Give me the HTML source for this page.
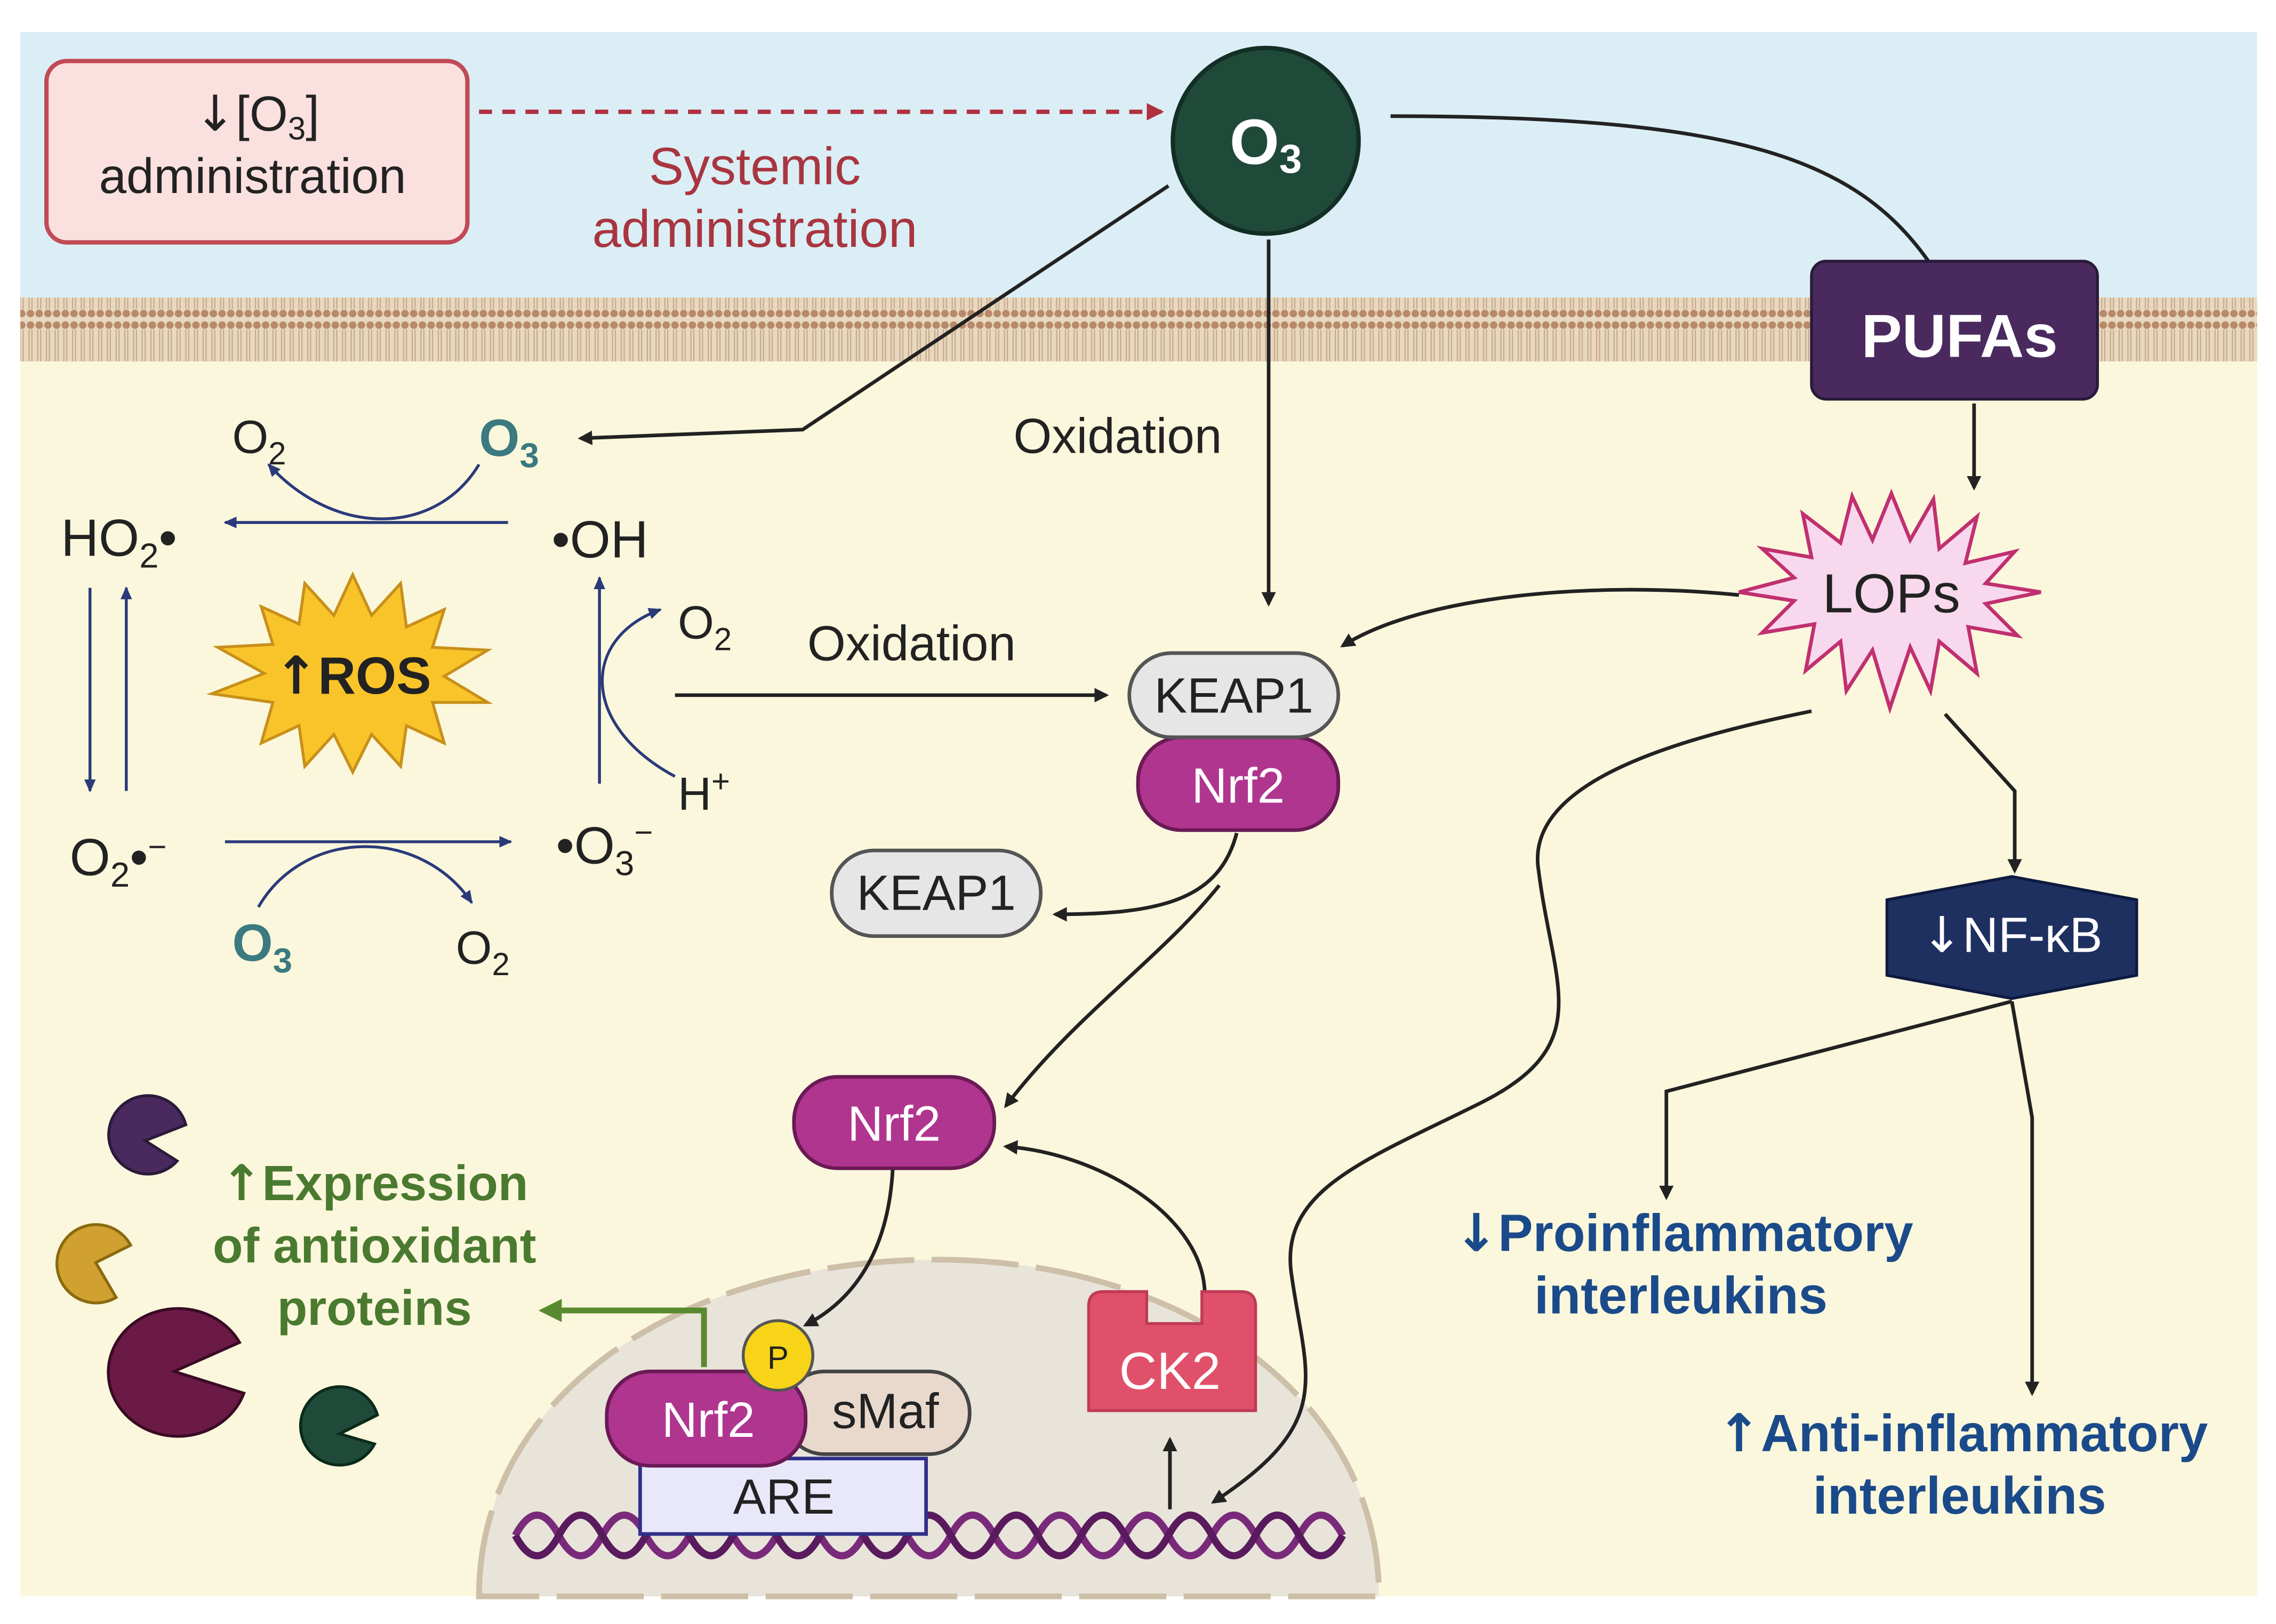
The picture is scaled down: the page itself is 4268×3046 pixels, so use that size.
<!DOCTYPE html>
<html><head><meta charset="utf-8"><style>
html,body{margin:0;padding:0;background:#fff}
svg{display:block}
text{font-family:"Liberation Sans",sans-serif}
.ar{font-family:"DejaVu Sans",sans-serif}
</style></head><body>
<svg width="4268" height="3046" viewBox="0 0 1568 1119" xmlns="http://www.w3.org/2000/svg">
<defs>
<marker id="ah" markerWidth="10" markerHeight="10" refX="8" refY="5" orient="auto" markerUnits="userSpaceOnUse"><path d="M0,0 L10,5 L0,10 z" fill="#222"/></marker>
<marker id="ahb" markerWidth="10" markerHeight="10" refX="8" refY="5" orient="auto" markerUnits="userSpaceOnUse"><path d="M0,1 L9,5 L0,9 z" fill="#2a3a7a"/></marker>
<marker id="ahr" markerWidth="12" markerHeight="12" refX="10" refY="6" orient="auto" markerUnits="userSpaceOnUse"><path d="M0,0 L12,6 L0,12 z" fill="#b03040"/></marker>
<marker id="ahg" markerWidth="16" markerHeight="16" refX="12" refY="8" orient="auto" markerUnits="userSpaceOnUse"><path d="M0,0 L16,8 L0,16 z" fill="#5a8a30"/></marker>
<pattern id="mem" width="6" height="44" patternUnits="userSpaceOnUse">
<rect width="6" height="44" fill="#e8d8c0"/>
<circle cx="3" cy="4" r="2.6" fill="#b88a6a"/><circle cx="3" cy="40" r="2.6" fill="#b88a6a"/>
<line x1="2" y1="7" x2="2" y2="37" stroke="#c8a888" stroke-width="0.8"/><line x1="4" y1="7" x2="4" y2="37" stroke="#c8a888" stroke-width="0.8"/>
</pattern>
</defs>
<rect x="14" y="22" width="1541" height="186" fill="#dbeef5"/>
<rect x="14" y="205" width="1541" height="895" fill="#fbf7dc"/>
<rect x="14" y="205" width="1541" height="44" fill="url(#mem)"/>

<rect x="32" y="42" width="290" height="125" rx="14" fill="#fbe0e0" stroke="#c04a55" stroke-width="3"/>
<text x="177" y="90" font-size="34" text-anchor="middle" fill="#222"><tspan class="ar">↓</tspan>[O<tspan font-size="22" dy="6">3</tspan><tspan dy="-6">]</tspan></text>
<text x="174" y="133" font-size="34" text-anchor="middle" fill="#222">administration</text>
<line x1="330" y1="77" x2="800" y2="77" stroke="#b03040" stroke-width="3" stroke-dasharray="9,7" marker-end="url(#ahr)"/>
<text x="520" y="127" font-size="36" text-anchor="middle" fill="#a83540">Systemic</text>
<text x="520" y="170" font-size="36" text-anchor="middle" fill="#a83540">administration</text>

<circle cx="872" cy="97" r="64" fill="#1f4a3a" stroke="#132e24" stroke-width="3"/>
<text x="872" y="113" font-size="44" font-weight="bold" text-anchor="middle" fill="#fff">O<tspan font-size="28" dy="6">3</tspan></text>

<path d="M958,80 C1200,80 1280,110 1330,182" fill="none" stroke="#222" stroke-width="2.5"/>
<rect x="1248" y="180" width="197" height="95" rx="10" fill="#4a2a5e" stroke="#2a1a3a" stroke-width="2"/>
<text x="1350" y="246" font-size="42" font-weight="bold" text-anchor="middle" fill="#fff">PUFAs</text>
<path d="M1360,278 L1360,336" stroke="#222" stroke-width="2.5" marker-end="url(#ah)"/>

<polygon fill="#f8d8ec" stroke="#c03070" stroke-width="2.5" points="1303,340 1316,372 1332,344 1336,378 1362,356 1354,388 1388,380 1368,402 1406,408 1368,416 1390,438 1356,432 1362,464 1336,442 1330,476 1316,446 1302,488 1290,448 1272,476 1268,442 1244,462 1250,430 1214,436 1236,414 1198,408 1236,398 1214,378 1248,384 1242,354 1268,374 1276,342 1290,372"/>
<text x="1303" y="422" font-size="38" text-anchor="middle" fill="#222">LOPs</text>

<path d="M805,128 L553,296 L400,302" fill="none" stroke="#222" stroke-width="2.5" marker-end="url(#ah)"/>
<path d="M874,165 L874,416" stroke="#222" stroke-width="2.5" marker-end="url(#ah)"/>
<text x="770" y="312" font-size="34" text-anchor="middle" fill="#222">Oxidation</text>

<text x="160" y="312" font-size="32" fill="#222">O<tspan font-size="22" dy="8">2</tspan></text>
<text x="330" y="314" font-size="36" font-weight="bold" fill="#3a7a80">O<tspan font-size="24" dy="8">3</tspan></text>
<text x="42" y="383" font-size="36" fill="#222">HO<tspan font-size="24" dy="8">2</tspan><tspan dy="-8">•</tspan></text>
<text x="380" y="384" font-size="36" fill="#222">•OH</text>
<path d="M350,360 L155,360" stroke="#2a3a7a" stroke-width="2" marker-end="url(#ahb)"/>
<path d="M330,320 C300,370 230,370 185,320" fill="none" stroke="#2a3a7a" stroke-width="2" marker-end="url(#ahb)"/>
<path d="M62,405 L62,545" stroke="#2a3a7a" stroke-width="2" marker-end="url(#ahb)"/>
<path d="M87,545 L87,405" stroke="#2a3a7a" stroke-width="2" marker-end="url(#ahb)"/>
<path d="M413,540 L413,398" stroke="#2a3a7a" stroke-width="2" marker-end="url(#ahb)"/>
<path d="M465,535 C400,500 400,440 455,420" fill="none" stroke="#2a3a7a" stroke-width="2" marker-end="url(#ahb)"/>
<text x="467" y="440" font-size="32" fill="#222">O<tspan font-size="22" dy="8">2</tspan></text>
<text x="467" y="558" font-size="32" fill="#222">H<tspan font-size="22" dy="-12">+</tspan></text>
<polygon fill="#f9c42a" stroke="#c8901a" stroke-width="2" points="243,396 256,424 276,402 280,432 306,420 298,446 336,448 306,466 336,484 298,484 306,512 280,500 276,528 256,506 243,532 230,506 210,528 206,500 180,512 188,484 146,478 182,464 150,446 188,444 180,418 206,430 210,402 230,424"/>
<text x="243" y="478" font-size="36" font-weight="bold" text-anchor="middle" fill="#222"><tspan class="ar">↑</tspan>ROS</text>
<text x="48" y="603" font-size="36" fill="#222">O<tspan font-size="24" dy="8">2</tspan><tspan dy="-8">•</tspan><tspan font-size="22" dy="-12">−</tspan></text>
<text x="383" y="595" font-size="36" fill="#222">•O<tspan font-size="24" dy="8">3</tspan><tspan font-size="22" dy="-22">−</tspan></text>
<path d="M155,580 L352,580" stroke="#2a3a7a" stroke-width="2" marker-end="url(#ahb)"/>
<path d="M178,625 C210,570 290,570 325,622" fill="none" stroke="#2a3a7a" stroke-width="2" marker-end="url(#ahb)"/>
<text x="160" y="662" font-size="36" font-weight="bold" fill="#3a7a80">O<tspan font-size="24" dy="8">3</tspan></text>
<text x="314" y="664" font-size="32" fill="#222">O<tspan font-size="22" dy="8">2</tspan></text>

<path d="M465,479 L762,479" stroke="#222" stroke-width="2.5" marker-end="url(#ah)"/>
<text x="628" y="455" font-size="34" text-anchor="middle" fill="#222">Oxidation</text>

<path d="M1198,410 C1100,400 980,410 925,445" fill="none" stroke="#222" stroke-width="2.5" marker-end="url(#ah)"/>
<rect x="784" y="508" width="138" height="64" rx="30" fill="#b0358f" stroke="#6a1a55" stroke-width="2.5"/>
<text x="853" y="553" font-size="34" text-anchor="middle" fill="#fff">Nrf2</text>
<rect x="778" y="450" width="144" height="58" rx="29" fill="#e6e6e6" stroke="#555" stroke-width="2.5"/>
<text x="850" y="491" font-size="34" text-anchor="middle" fill="#222">KEAP1</text>
<rect x="573" y="586" width="144" height="59" rx="29" fill="#e6e6e6" stroke="#555" stroke-width="2.5"/>
<text x="645" y="627" font-size="34" text-anchor="middle" fill="#222">KEAP1</text>
<path d="M852,574 C840,620 800,630 727,630" fill="none" stroke="#222" stroke-width="2.5" marker-end="url(#ah)"/>
<path d="M840,610 C800,660 740,700 693,762" fill="none" stroke="#222" stroke-width="2.5" marker-end="url(#ah)"/>

<path d="M330,1100 C330,960 470,870 640,868 C810,866 950,960 950,1100 Z" fill="#e8e4da" stroke="#cdbfa8" stroke-width="4" stroke-dasharray="60,12"/>
<rect x="547" y="742" width="138" height="63" rx="30" fill="#b0358f" stroke="#6a1a55" stroke-width="2.5"/>
<text x="616" y="786" font-size="34" text-anchor="middle" fill="#fff">Nrf2</text>
<path d="M615,806 C612,860 590,895 555,913" fill="none" stroke="#222" stroke-width="2.5" marker-end="url(#ah)"/>
<path d="M830,892 C830,840 760,795 693,790" fill="none" stroke="#222" stroke-width="2.5" marker-end="url(#ah)"/>
<path d="M750,900 Q750,890 760,890 L790,890 L790,912 L828,912 L828,890 L855,890 Q865,890 865,900 L865,972 L750,972 Z" fill="#e0506a" stroke="#c03a55" stroke-width="2"/>
<text x="806" y="957" font-size="36" text-anchor="middle" fill="#fff">CK2</text>
<path d="M806,1040 L806,992" stroke="#222" stroke-width="2.5" marker-end="url(#ah)"/>
<path d="M355,1058 Q370,1030 385,1058 T415,1058 T445,1058 T475,1058 T505,1058 T535,1058 T565,1058 T595,1058 T625,1058 T655,1058 T685,1058 T715,1058 T745,1058 T775,1058 T805,1058 T835,1058 T865,1058 T895,1058 T925,1058" fill="none" stroke="#7a2a7a" stroke-width="5"/>
<path d="M355,1058 Q370,1086 385,1058 T415,1058 T445,1058 T475,1058 T505,1058 T535,1058 T565,1058 T595,1058 T625,1058 T655,1058 T685,1058 T715,1058 T745,1058 T775,1058 T805,1058 T835,1058 T865,1058 T895,1058 T925,1058" fill="none" stroke="#5a1a5e" stroke-width="5"/>
<rect x="441" y="1005" width="197" height="52" fill="#e8e8fa" stroke="#30308a" stroke-width="2.5"/>
<text x="540" y="1043" font-size="34" text-anchor="middle" fill="#222">ARE</text>
<rect x="540" y="945" width="128" height="57" rx="28" fill="#e9d8cc" stroke="#444" stroke-width="2.5"/>
<text x="610" y="984" font-size="34" text-anchor="middle" fill="#222">sMaf</text>
<rect x="418" y="945" width="137" height="65" rx="30" fill="#b0358f" stroke="#6a1a55" stroke-width="2.5"/>
<text x="488" y="990" font-size="34" text-anchor="middle" fill="#fff">Nrf2</text>
<circle cx="536" cy="934" r="24" fill="#f8d418" stroke="#555" stroke-width="2"/>
<text x="536" y="943" font-size="22" text-anchor="middle" fill="#222">P</text>
<path d="M485,942 L485,903 L375,903" fill="none" stroke="#5a8a30" stroke-width="4" marker-end="url(#ahg)"/>

<text x="258" y="827" font-size="34" font-weight="bold" text-anchor="middle" fill="#4a7a30"><tspan class="ar">↑</tspan>Expression</text>
<text x="258" y="870" font-size="34" font-weight="bold" text-anchor="middle" fill="#4a7a30">of antioxidant</text>
<text x="258" y="913" font-size="34" font-weight="bold" text-anchor="middle" fill="#4a7a30">proteins</text>
<path d="M128,775 A27,27 0 1 0 122,800 L100,786 Z" fill="#4a2a5e" stroke="#2a1a3a" stroke-width="2"/>
<path d="M90,858 A27,27 0 1 0 80,894 L66,870 Z" fill="#d0a030" stroke="#8a6a10" stroke-width="2"/>
<path d="M165,925 A48,44 0 1 0 168,960 L120,945 Z" fill="#6a1a45" stroke="#3a0a25" stroke-width="2"/>
<path d="M260,975 A27,27 0 1 0 258,995 L234,988 Z" fill="#1f4a3a" stroke="#0a2a1a" stroke-width="2"/>

<path d="M1248,490 C1150,510 1050,540 1060,600 C1070,680 1100,720 1020,760 C940,800 880,820 890,880 C900,950 920,980 836,1035" fill="none" stroke="#222" stroke-width="2.5" marker-end="url(#ah)"/>

<path d="M1340,492 L1388,545 L1388,600" fill="none" stroke="#222" stroke-width="2.5" marker-end="url(#ah)"/>
<polygon points="1300,620 1386,604 1472,620 1472,672 1386,688 1300,672" fill="#1e3060" stroke="#0e1a40" stroke-width="2"/>
<text x="1386" y="656" font-size="34" text-anchor="middle" fill="#fff"><tspan class="ar">↓</tspan>NF-κB</text>
<path d="M1386,690 L1148,752 L1148,825" fill="none" stroke="#222" stroke-width="2.5" marker-end="url(#ah)"/>
<path d="M1386,690 L1400,770 L1400,960" fill="none" stroke="#222" stroke-width="2.5" marker-end="url(#ah)"/>
<text x="1160" y="862" font-size="36" font-weight="bold" text-anchor="middle" fill="#1a4a8a"><tspan class="ar">↓</tspan>Proinflammatory</text>
<text x="1158" y="905" font-size="36" font-weight="bold" text-anchor="middle" fill="#1a4a8a">interleukins</text>
<text x="1352" y="1000" font-size="36" font-weight="bold" text-anchor="middle" fill="#1a4a8a"><tspan class="ar">↑</tspan>Anti-inflammatory</text>
<text x="1350" y="1043" font-size="36" font-weight="bold" text-anchor="middle" fill="#1a4a8a">interleukins</text>
</svg>
</body></html>
